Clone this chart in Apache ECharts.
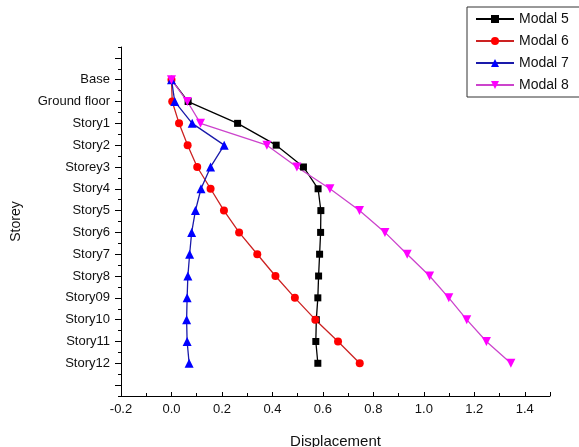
<!DOCTYPE html>
<html>
<head>
<meta charset="utf-8">
<script src="https://cdn.jsdelivr.net/npm/echarts@6/dist/echarts.min.js"></script>
<style>
html, body { margin: 0; padding: 0; background: #fff; }
#chart { width: 579px; height: 447px; }
</style>
</head>
<body>
<div id="chart"></div>
<script>
// storeys, top to bottom (padded with blanks above and below)
var storeys = ['Base', 'Ground floor', 'Story1', 'Story2', 'Storey3', 'Story4', 'Story5',
	'Story6', 'Story7', 'Story8', 'Story09', 'Story10', 'Story11', 'Story12'];
var yCats = [' '].concat(storeys).concat(['  ']);

// displacement per storey for each mode
var modal5 = [0.000, 0.066, 0.262, 0.415, 0.523, 0.581, 0.592, 0.591, 0.587, 0.583, 0.580, 0.574, 0.572, 0.580];
var modal6 = [0.000, 0.003, 0.030, 0.064, 0.102, 0.155, 0.208, 0.268, 0.340, 0.412, 0.489, 0.570, 0.660, 0.746];
var modal7 = [0.000, 0.013, 0.082, 0.209, 0.155, 0.117, 0.095, 0.080, 0.072, 0.065, 0.062, 0.060, 0.062, 0.070];
var modal8 = [0.000, 0.063, 0.115, 0.378, 0.497, 0.628, 0.745, 0.846, 0.934, 1.023, 1.099, 1.170, 1.248, 1.345];

function pairs(vals){
	var out = [];
	for (var i = 0; i < vals.length; i++) out.push([vals[i], storeys[i]]);
	return out;
}

function makeSeries(name, vals, symbol, size, rotate, color, lineColor){
	return {
		name: name,
		type: 'line',
		data: pairs(vals),
		symbol: symbol,
		symbolSize: size,
		symbolRotate: rotate,
		yAxisIndex: 0,
		itemStyle: { color: color },
		lineStyle: { color: lineColor, width: 1.3 },
		emphasis: { disabled: true },
		animation: false
	};
}

var font = 'Liberation Sans, Arial, sans-serif';

var option = {
	backgroundColor: '#fff',
	textStyle: { fontFamily: font },
	grid: { left: 121, right: 29, top: 47, bottom: 51, containLabel: false, outerBoundsMode: 'none' },
	legend: {
		orient: 'vertical',
		left: 467,
		top: 7,
		itemWidth: 38,
		itemHeight: 10,
		itemGap: 8,
		padding: [5, 40, 5, 8],
		borderColor: '#333',
		borderWidth: 1,
		textStyle: { fontSize: 14, color: '#111', fontFamily: font },
		data: ['Modal 5', 'Modal 6', 'Modal 7', 'Modal 8']
	},
	xAxis: {
		type: 'value',
		min: -0.2,
		max: 1.5,
		interval: 0.2,
		name: 'Displacement',
		nameLocation: 'middle',
		nameGap: 38,
		nameTextStyle: { fontSize: 15, color: '#111' },
		axisLine: { show: true, onZero: false, lineStyle: { color: '#000', width: 1 } },
		axisTick: { show: true, inside: true, length: 4, lineStyle: { color: '#000' } },
		minorTick: { show: true, splitNumber: 2, length: 3, lineStyle: { color: '#000' } },
		splitLine: { show: false },
		axisLabel: {
			showMaxLabel: false,
			margin: 7,
			fontSize: 13,
			color: '#111',
			formatter: function(v){ return v.toFixed(1); }
		}
	},
	yAxis: [{
		type: 'category',
		data: yCats,
		inverse: true,
		position: 'left',
		name: 'Storey',
		nameLocation: 'middle',
		nameGap: 98,
		nameTextStyle: { fontSize: 14, color: '#111' },
		axisLine: { show: true, onZero: false, lineStyle: { color: '#000', width: 1 } },
		axisTick: { show: true, alignWithLabel: true, interval: 0, length: 6, lineStyle: { color: '#000' } },
		axisLabel: { interval: 0, margin: 11, fontSize: 13, color: '#111' },
		splitLine: { show: false }
	}, {
		// minor ticks between storeys
		type: 'category',
		data: yCats,
		inverse: true,
		position: 'left',
		offset: 0,
		axisLine: { show: false, onZero: false },
		axisTick: { show: true, alignWithLabel: false, interval: 0, length: 3, lineStyle: { color: '#000' } },
		axisLabel: { show: false },
		splitLine: { show: false }
	}],
	series: [
		makeSeries('Modal 5', modal5, 'rect', 7, 0, '#000', '#000'),
		makeSeries('Modal 6', modal6, 'circle', 8, 0, '#ff0000', '#cc2222'),
		makeSeries('Modal 7', modal7, 'triangle', 9, 0, '#0000ff', '#1a1aaa'),
		makeSeries('Modal 8', modal8, 'triangle', 9, 180, '#ff00ff', '#cc44cc')
	]
};

var myChart = echarts.init(document.getElementById('chart'));
myChart.setOption(option, true);
</script>
</body>
</html>
